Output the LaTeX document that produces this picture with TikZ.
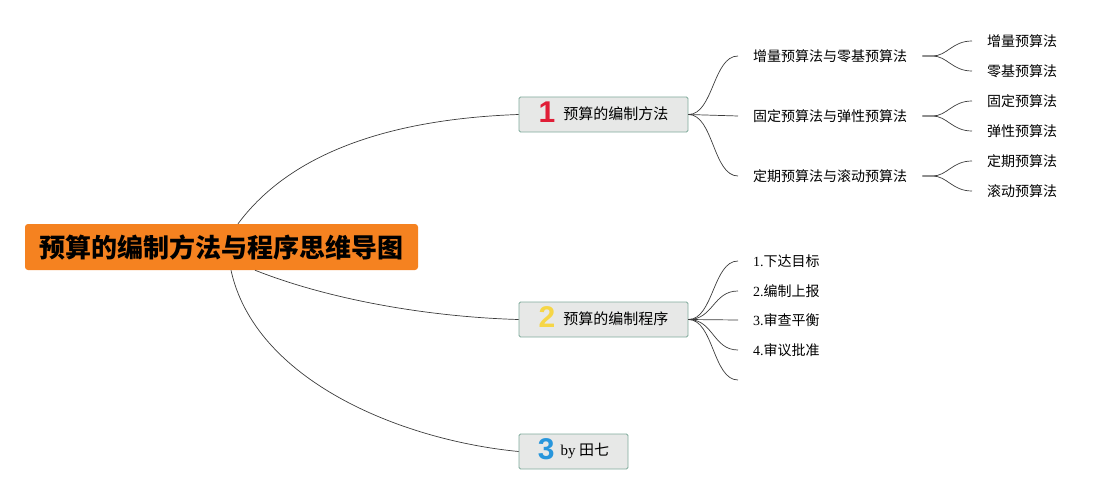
\documentclass[tikz,border=0pt]{standalone}
\usepackage{fontspec}
\setmainfont{Liberation Serif}
\newfontfamily\cjk{Noto Sans CJK SC}
\newfontfamily\numfont{Liberation Sans}
\definecolor{rootorange}{RGB}{245,130,32}
\definecolor{boxfill}{RGB}{231,232,231}
\definecolor{boxline}{RGB}{127,170,155}
\definecolor{linkgray}{RGB}{60,60,60}
\definecolor{numred}{RGB}{224,30,55}
\definecolor{numyellow}{RGB}{246,214,70}
\definecolor{numblue}{RGB}{40,150,220}
\newcommand{\bignum}[2]{\raisebox{-3.5pt}{\smash{\numfont\bfseries\fontsize{30}{30}\selectfont\color{#1}#2}}}
\begin{document}
\begin{tikzpicture}[x=1pt,y=-1pt,
  rootbox/.style={fill=rootorange,rounded corners=3pt,minimum width=393pt,minimum height=46pt,inner sep=0pt,
    font=\cjk\bfseries\fontsize{26}{30}\selectfont,text=black},
  mainbox/.style={fill=boxfill,draw=boxline,line width=0.9pt,rounded corners=1.5pt,minimum height=35pt,inner sep=0pt,
    font=\cjk\fontsize{15}{18}\selectfont},
  leaf/.style={anchor=west,inner sep=0pt,font=\cjk\fontsize{14}{16}\selectfont},
  link/.style={draw=linkgray,line width=0.7pt},
]
\useasboundingbox (0,0) rectangle (1117,495);

\node[rootbox] (root) at (221.5,247) {预算的编制方法与程序思维导图};

\node[mainbox,minimum width=169pt] (b1) at (603.5,114.5) {\bignum{numred}{1}\hspace{8pt}预算的编制方法};
\node[mainbox,minimum width=169pt] (b2) at (603.5,319.5) {\bignum{numyellow}{2}\hspace{8pt}预算的编制程序};
\node[mainbox,minimum width=109pt] (b3) at (573.5,451.5) {\bignum{numblue}{3}\hspace{6pt}{\rmfamily by} 田七};

% root links
\draw[link] ([xshift=16.5pt]root.north) .. controls (300,140) and (420,118) .. (b1.west);
\draw[link] ([xshift=33.5pt]root.south) .. controls (330,300) and (430,317) .. (b2.west);
\draw[link] ([xshift=9.5pt]root.south) .. controls (255,380) and (400,440) .. (b3.west);

% branch 1 children
\node[leaf] (c11) at (753,56) {增量预算法与零基预算法};
\node[leaf] (c12) at (753,116) {固定预算法与弹性预算法};
\node[leaf] (c13) at (753,176) {定期预算法与滚动预算法};
\foreach \c in {c11,c12,c13}{
  \draw[link] (b1.east) .. controls +(25,0) and ([xshift=-40pt]\c.west) .. ([xshift=-15pt]\c.west);
}

% leaves
\node[leaf] (l1) at (987,41) {增量预算法};
\node[leaf] (l2) at (987,71) {零基预算法};
\node[leaf] (l3) at (987,101) {固定预算法};
\node[leaf] (l4) at (987,131) {弹性预算法};
\node[leaf] (l5) at (987,161) {定期预算法};
\node[leaf] (l6) at (987,191) {滚动预算法};
\foreach \p/\c in {c11/l1,c11/l2,c12/l3,c12/l4,c13/l5,c13/l6}{
  \draw[link] ([xshift=15pt]\p.east) -- ([xshift=25pt]\p.east) .. controls ([xshift=40pt]\p.east) and ([xshift=-35pt]\c.west) .. ([xshift=-15pt]\c.west);
}

% branch 2 children
\node[leaf] (c21) at (753,261) {{\rmfamily 1.}下达目标};
\node[leaf] (c22) at (753,291) {{\rmfamily 2.}编制上报};
\node[leaf] (c23) at (753,320) {{\rmfamily 3.}审查平衡};
\node[leaf] (c24) at (753,350) {{\rmfamily 4.}审议批准};
\coordinate (c25) at (753,380);
\foreach \c in {c21,c22,c23,c24,c25}{
  \draw[link] (b2.east) .. controls +(25,0) and ([xshift=-40pt]\c.west) .. ([xshift=-15pt]\c.west);
}
\end{tikzpicture}
\end{document}
